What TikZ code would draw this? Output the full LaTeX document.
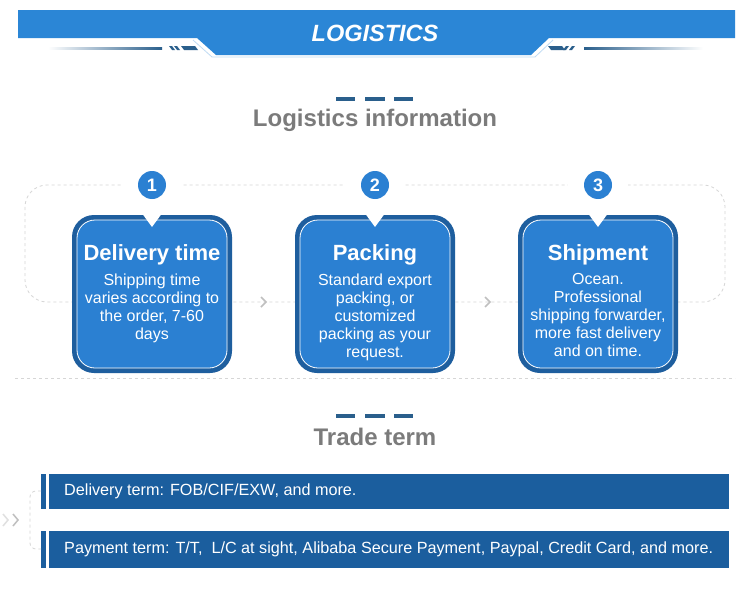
\documentclass[tikz,border=0pt]{standalone}
\usepackage{fontspec}
\setmainfont{Liberation Sans}
\definecolor{bannerblue}{HTML}{2B86D6}
\definecolor{boxblue}{HTML}{2B80D2}
\definecolor{borderblue}{HTML}{1E5E9E}
\definecolor{barblue}{HTML}{1B5E9E}
\definecolor{dashblue}{HTML}{2A5F8C}
\definecolor{headgrey}{HTML}{7B7B7B}
\definecolor{loopgrey}{HTML}{D6D6D6}
\tikzset{
  headtext/.style={text=headgrey,font=\bfseries\fontsize{24}{28}\selectfont,inner sep=0},
  numcirc/.style={circle,fill=boxblue,minimum size=28pt,inner sep=0,text=white,font=\bfseries\fontsize{18}{20}\selectfont},
  boxtitle/.style={text=white,font=\bfseries\fontsize{22}{26}\selectfont,inner sep=0},
  boxbody/.style={text=white,font=\fontsize{16}{18}\selectfont,align=center,inner sep=0,anchor=north},
  bartext/.style={text=white,font=\fontsize{16.2}{19}\selectfont,inner sep=0,anchor=west},
  dashmark/.style={fill=dashblue,draw=none},
  loopline/.style={draw=loopgrey,dashed,line width=0.8pt},
  chev/.style={draw=black!25,line width=1.5pt},
}
\begin{document}
\begin{tikzpicture}[x=1pt,y=-1pt]
\useasboundingbox[fill=white] (0,0) rectangle (750,597);
% ---------- banner ----------
\fill[bannerblue] (18,10) -- (735,10) -- (735,38) -- (549,38) -- (531,55) -- (216,55) -- (197,38) -- (18,38) -- cycle;
\draw[white!70!bannerblue,line width=0.8pt] (193,40) -- (212,57) -- (535,57) -- (553,40);
\node[text=white,font=\bfseries\itshape\fontsize{23.5}{26}\selectfont,inner sep=0] (banner) at (375,33) {LOGISTICS};
\shade[left color=white,right color=dashblue] (48,47.5) rectangle (162,49);
\shade[left color=dashblue,right color=white] (584,47.5) rectangle (703,49);
\fill[dashblue] (169,46) -- (172,46) -- (175,50) -- (172,50) -- cycle;
\fill[dashblue] (174,46) -- (177,46) -- (180,50) -- (177,50) -- cycle;
\fill[dashblue] (181,46) -- (195,46) -- (198,50) -- (184,50) -- cycle;
\fill[dashblue] (548,46) -- (562,46) -- (565,50) -- (551,50) -- cycle;
\fill[dashblue] (563,50) -- (566,50) -- (569,46) -- (566,46) -- cycle;
\fill[dashblue] (569,50) -- (572,50) -- (575,46) -- (572,46) -- cycle;
% ---------- logistics information ----------
\fill[dashmark] (336,97) rectangle (355,101);
\fill[dashmark] (365,97) rectangle (385,101);
\fill[dashmark] (394,97) rectangle (413,101);
\node[headtext] (h1) at (375,120) {Logistics information};
% dashed loop
\draw[loopline,rounded corners=22pt] (25,185) rectangle (725,302);
\draw[loopline] (15,378) -- (735,378);
\coordinate (ch1) at (266,302);
\coordinate (ch2) at (490,302);
\draw[chev] ([shift={(-5,-5)}]ch1) -- (ch1) -- ([shift={(-5,5)}]ch1);
\draw[chev] ([shift={(-5,-5)}]ch2) -- (ch2) -- ([shift={(-5,5)}]ch2);
% boxes
\foreach \cx/\n in {152/1,375/2,598/3}{
  \fill[white] (\cx,185) circle (30);
  \node[numcirc] (c\n) at (\cx,185) {\n};
  \fill[borderblue,rounded corners=22pt] (\cx-80,215) rectangle (\cx+80,373);
  \draw[white,fill=boxblue,line width=0.8pt,rounded corners=18pt] (\cx-75,220) rectangle (\cx+75,368);
  \fill[white] (\cx-9.5,214) -- (\cx+9.5,214) -- (\cx,227) -- cycle;
}
\node[boxtitle] (t1) at (152,255) {Delivery time};
\node[boxbody] (b1) at (152,273.5) {Shipping time\\varies according to\\the order, 7-60\\days};
\node[boxtitle] (t2) at (375,255) {Packing};
\node[boxbody] (b2) at (375,273.5) {Standard export\\packing, or\\customized\\packing as your\\request.};
\node[boxtitle] (t3) at (598,255) {Shipment};
\node[boxbody] (b3) at (598,273.5) {Ocean.\\Professional\\shipping forwarder,\\more fast delivery\\and on time.};
% ---------- trade term ----------
\fill[dashmark] (336,414) rectangle (355,418);
\fill[dashmark] (365,414) rectangle (385,418);
\fill[dashmark] (394,414) rectangle (413,418);
\node[headtext] (h2) at (375,437) {Trade term};
\fill[barblue] (41,474) rectangle (46,509);
\fill[barblue] (49,474) rectangle (729,509);
\fill[barblue] (41,531) rectangle (46,568);
\fill[barblue] (49,531) rectangle (729,568);
\node[bartext] (d1) at (64,491.5) {Delivery term: FOB/CIF/EXW, and more.};
\node[bartext] (d2) at (64,549.5) {Payment term: T/T,\ \ L/C at sight, Alibaba Secure Payment, Paypal, Credit Card, and more.};
\draw[loopline,rounded corners=6pt] (41,491) -- (30,491) -- (30,549) -- (41,549);
\coordinate (ch3) at (18,520);
\coordinate (ch4) at (8,520);
\draw[chev] ([shift={(-5,-6)}]ch3) -- (ch3) -- ([shift={(-5,6)}]ch3);
\draw[chev,draw=black!12] ([shift={(-5,-6)}]ch4) -- (ch4) -- ([shift={(-5,6)}]ch4);
\end{tikzpicture}
\end{document}
